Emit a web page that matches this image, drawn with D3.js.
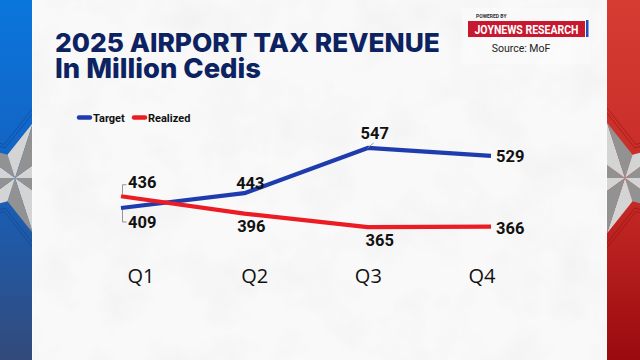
<!DOCTYPE html>
<html><head><meta charset="utf-8">
<script src="https://cdn.jsdelivr.net/npm/d3@7"></script>
<style>
html,body{margin:0;padding:0;background:#fff;}
svg{display:block;}
</style></head>
<body>
<svg id="c" width="640" height="360"></svg>
<script>
// ---- data ----
const categories = ["Q1", "Q2", "Q3", "Q4"];
const targetValues = [409, 443, 547, 529];
const realizedValues = [436, 396, 365, 366];
const seriesNames = ["Target", "Realized"];
const titleLines = ["2025 AIRPORT TAX REVENUE", "In Million Cedis"];
const sourceText = "Source: MoF";

// ---- label placement (style) ----
const targetLabelPos = [
  {dx: 7, dy: 20, anchor: "start"},
  {dx: 6, dy: -4, anchor: "middle"},
  {dx: 7, dy: -9, anchor: "middle"},
  {dx: 5, dy: 6, anchor: "start"}
];
const realizedLabelPos = [
  {dx: 7, dy: -8, anchor: "start"},
  {dx: 7, dy: 18, anchor: "middle"},
  {dx: 12, dy: 19, anchor: "middle"},
  {dx: 5, dy: 7, anchor: "start"}
];

const W = 640, H = 360;
const svg = d3.select("#c");
const defs = svg.append("defs");

// gradients
const lg = defs.append("linearGradient").attr("id","gl").attr("x1",0).attr("y1",0).attr("x2",0).attr("y2",1);
lg.append("stop").attr("offset","0%").attr("stop-color","#0a76dc");
lg.append("stop").attr("offset","45%").attr("stop-color","#1463c2");
lg.append("stop").attr("offset","100%").attr("stop-color","#334a7a");
const rg = defs.append("linearGradient").attr("id","gr").attr("x1",0).attr("y1",0).attr("x2",0).attr("y2",1);
rg.append("stop").attr("offset","0%").attr("stop-color","#d63c32");
rg.append("stop").attr("offset","55%").attr("stop-color","#c52a26");
rg.append("stop").attr("offset","100%").attr("stop-color","#9a0a0e");

// texture filter
const f = defs.append("filter").attr("id","tex").attr("x",0).attr("y",0).attr("width","100%").attr("height","100%");
f.append("feTurbulence").attr("type","fractalNoise").attr("baseFrequency","0.02").attr("numOctaves",4).attr("seed",7).attr("result","n");
f.append("feColorMatrix").attr("in","n").attr("type","matrix")
  .attr("values","0 0 0 0 0.6  0 0 0 0 0.6  0 0 0 0 0.62  0 0 0 -1.6 0.95");

defs.append("clipPath").attr("id","cl").append("rect").attr("x",0).attr("y",0).attr("width",32).attr("height",H);
defs.append("clipPath").attr("id","cr").append("rect").attr("x",607).attr("y",0).attr("width",33).attr("height",H);

// panels
svg.append("rect").attr("x",0).attr("y",0).attr("width",W).attr("height",H).attr("fill","#fbfbfb");
svg.append("rect").attr("x",33).attr("y",0).attr("width",573).attr("height",H).attr("fill","#f9f9f9");
svg.append("rect").attr("x",33).attr("y",0).attr("width",573).attr("height",H).attr("filter","url(#tex)").attr("opacity",0.18);
svg.append("rect").attr("x",0).attr("y",0).attr("width",32).attr("height",H).attr("fill","url(#gl)");
svg.append("rect").attr("x",607).attr("y",0).attr("width",33).attr("height",H).attr("fill","url(#gr)");

// stars
function starPts(cx, cy, R, r, rot){
  const pts = [];
  for (let i = 0; i < 10; i++){
    const a = rot + i * Math.PI / 5;
    const rr = i % 2 === 0 ? R : r;
    pts.push([cx + rr*Math.cos(a), cy + rr*Math.sin(a)]);
  }
  return pts;
}
function drawStar(g, cx, cy, R, rot, lineCol){
  const r = R * 0.42;
  [1.3, 1.45].forEach(k => {
    g.append("polygon").attr("points", starPts(cx, cy, R*k, r*k, rot).map(p=>p.join(",")).join(" "))
      .attr("fill","none").attr("stroke",lineCol).attr("stroke-width",1).attr("opacity",0.5);
  });
  const pts = starPts(cx, cy, R, r, rot);
  for (let i = 0; i < 10; i += 2){
    const tip = pts[i], prev = pts[(i+9)%10], next = pts[(i+1)%10];
    g.append("polygon").attr("points",[[cx,cy],tip,prev].map(p=>p.join(",")).join(" ")).attr("fill","#d4d4d4");
    g.append("polygon").attr("points",[[cx,cy],tip,next].map(p=>p.join(",")).join(" ")).attr("fill","#929292");
  }
}
drawStar(svg.append("g").attr("clip-path","url(#cl)"), 15, 178, 58, 0, "#0b3f8a");
drawStar(svg.append("g").attr("clip-path","url(#cr)"), 625, 178, 58, Math.PI, "#8a0d10");

// title (one text element, two lines)
const titleFont = "Inter, 'Open Sans', sans-serif";
const title = svg.append("text").attr("fill","#0c2261").attr("font-family",titleFont).attr("font-weight",800);
const ts1 = title.append("tspan").attr("x",55).attr("y",52).attr("font-size",30).text(titleLines[0]);
const ts2 = title.append("tspan").attr("x",55).attr("y",78).attr("font-size",26).text(titleLines[1]);
function fit(t, w){
  const l = t.node().getComputedTextLength();
  const fs = +t.attr("font-size");
  t.attr("font-size", fs * w / l);
}
fit(ts1, 385);
fit(ts2, 206);

// logo
svg.append("rect").attr("x",462).attr("y",8).attr("width",128).attr("height",56).attr("fill","#ffffff").attr("opacity",0.3);
svg.append("text").attr("x",476).attr("y",18).attr("font-family","Roboto, sans-serif").attr("font-weight",700)
  .attr("font-size",5).attr("fill","#333").text("POWERED BY");
svg.append("rect").attr("x",468).attr("y",21).attr("width",117).attr("height",16).attr("fill","#c8182f");
svg.append("rect").attr("x",586).attr("y",20).attr("width",2.5).attr("height",17).attr("fill","#2150b8");
svg.append("text").attr("x",526.5).attr("y",33.5).attr("text-anchor","middle")
  .attr("font-family","Roboto,sans-serif").attr("font-weight",700)
  .attr("font-size",12).attr("fill","#fff").attr("textLength",104).attr("lengthAdjust","spacingAndGlyphs")
  .text("JOYNEWS RESEARCH");
svg.append("text").attr("x",521).attr("y",52).attr("text-anchor","middle")
  .attr("font-family","Roboto, 'Open Sans', sans-serif").attr("font-size",10.5).attr("fill","#222").text(sourceText);

// scales
const x = d3.scalePoint().domain(categories).range([121, 491]);
const xl = d3.scalePoint().domain(categories).range([141, 482]);
const y = d3.scaleLinear().domain([300, 600]).range([255.4, 124.9]);

const colors = {Target: "#1f3caf", Realized: "#ec1c24"};
const line = d3.line().x((d,i)=>x(categories[i])).y(d=>y(d));

// legend
const labFont = "Roboto, 'Open Sans', sans-serif";
const legX = [{sx:77, tx:93}, {sx:132, tx:148}];
seriesNames.forEach((s,i)=>{
  svg.append("line").attr("x1",legX[i].sx+2).attr("x2",legX[i].sx+13).attr("y1",117.5).attr("y2",117.5)
    .attr("stroke",colors[s]).attr("stroke-width",4.5).attr("stroke-linecap","round");
  svg.append("text").attr("x",legX[i].tx).attr("y",121.5).attr("font-family",labFont).attr("font-weight",700)
    .attr("font-size",11).attr("fill","#111").text(s);
});

// lines
[[targetValues,"Target"],[realizedValues,"Realized"]].forEach(([vals,s])=>{
  svg.append("path").attr("d",line(vals)).attr("fill","none").attr("stroke",colors[s])
    .attr("stroke-width",4.2).attr("stroke-linejoin","round").attr("stroke-linecap","butt");
});

// leader lines
const lead = svg.append("g").attr("stroke","#8a8a8a").attr("stroke-width",0.9).attr("fill","none");
const q1 = x(categories[0]) + 1.5;
lead.append("path").attr("d",`M${q1+4},${y(realizedValues[0])-11.5}H${q1}V${y(realizedValues[0])-2}`);
lead.append("path").attr("d",`M${q1},${y(targetValues[0])+2}V${y(targetValues[0])+14}H${q1+4}`);
lead.append("path").attr("d",`M${x(categories[2])},${y(targetValues[2])}L${x(categories[2])+6},${y(targetValues[2])-5}`);

// value labels
function labels(vals, pos){
  vals.forEach((v,i)=>{
    svg.append("text").attr("x",x(categories[i])+pos[i].dx).attr("y",y(v)+pos[i].dy)
      .attr("text-anchor",pos[i].anchor).attr("font-family",labFont).attr("font-weight",700)
      .attr("font-size",16.5).attr("fill","#111").text(v);
  });
}
labels(targetValues, targetLabelPos);
labels(realizedValues, realizedLabelPos);

// category labels
categories.forEach(c=>{
  svg.append("text").attr("x",xl(c)).attr("y",283).attr("text-anchor","middle")
    .attr("font-family","'Open Sans','Noto Sans',sans-serif").attr("font-size",20).attr("fill","#111").text(c);
});
</script>
</body></html>
